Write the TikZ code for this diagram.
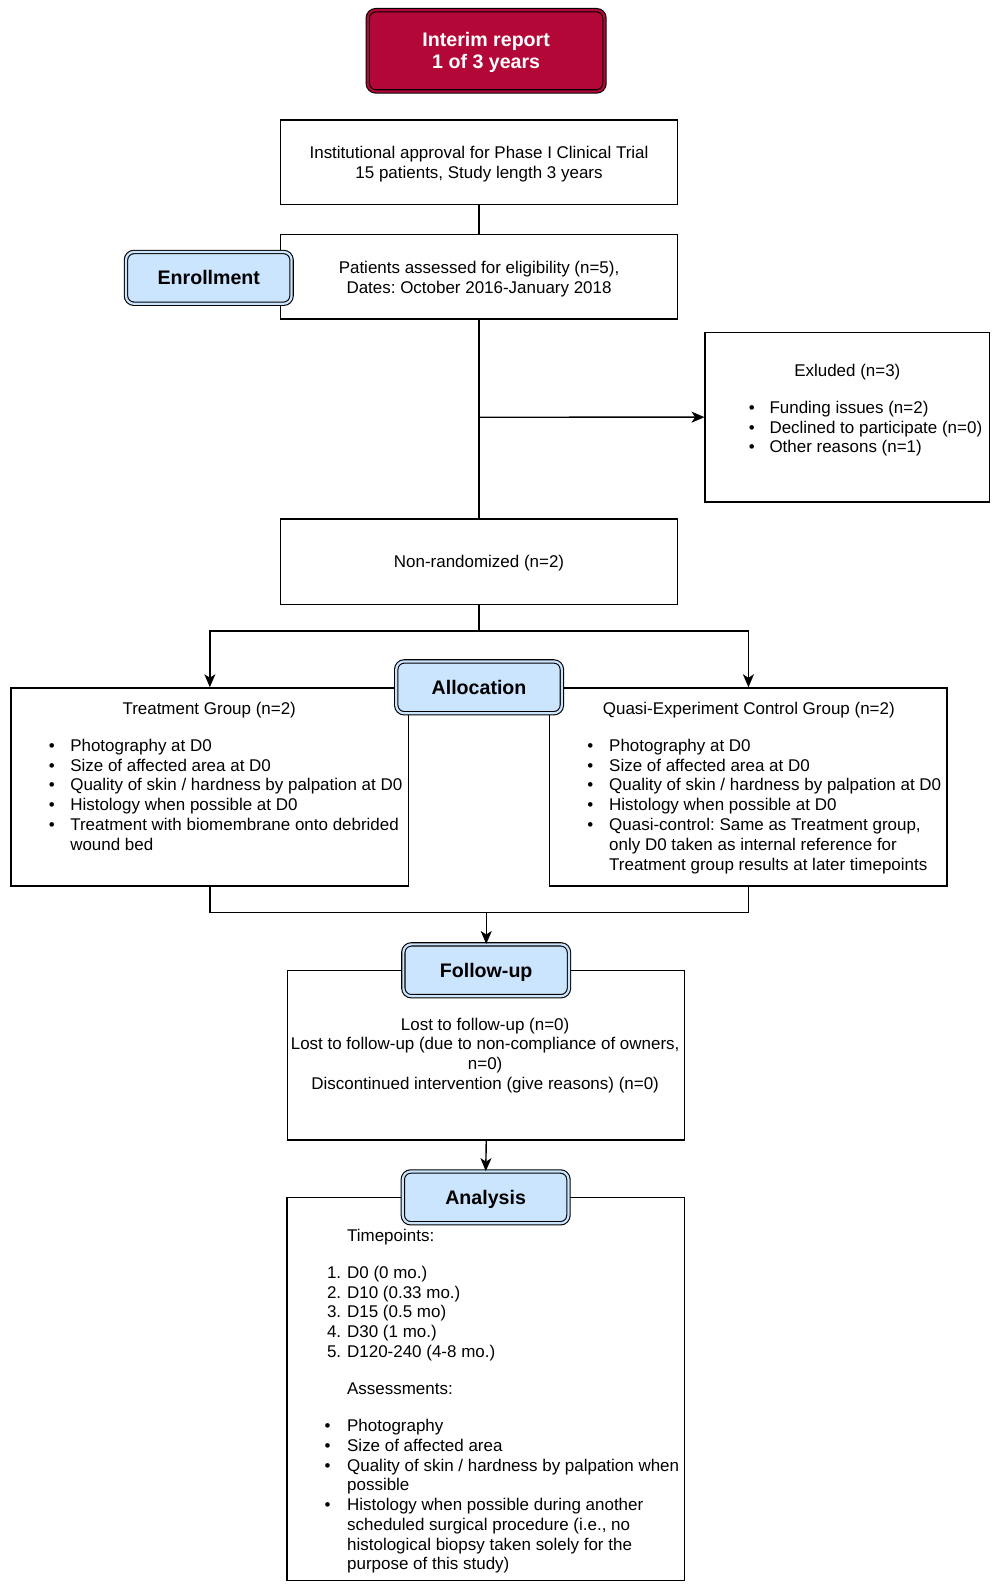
\documentclass[tikz,border=0pt]{standalone}
\usepackage{fontspec}
\setmainfont{Liberation Sans}
\usetikzlibrary{arrows.meta}
\definecolor{crim}{HTML}{B20737}
\definecolor{lblue}{HTML}{CCE5FF}
\frenchspacing
\begin{document}
\frenchspacing
\tikzset{myarrow/.tip={Stealth[length=13pt,width=11pt,inset=3.5pt]}}
\begin{tikzpicture}[x=1pt,y=-1pt,scale=1.016,transform shape,
  box/.style={rectangle,draw=black,line width=1.4pt,fill=white,inner sep=0pt},
  lab/.style={rectangle,rounded corners=8pt,draw=black,line width=1.1pt,double=lblue,double distance=2.2pt,fill=lblue,minimum width=163pt,minimum height=51pt,inner sep=0pt,font=\fontsize{19.3}{22}\selectfont\bfseries,text height=13.8pt,text depth=0pt},
  conn/.style={draw=black,line width=1.4pt},
  arr/.style={conn,-myarrow},
  txt/.style={inner sep=0pt,font=\fontsize{16.7}{19.5}\selectfont},
  ct/.style={txt,anchor=base},
  lt/.style={txt,anchor=base west},
  rt/.style={txt,anchor=base east},
  wt/.style={inner sep=0pt,anchor=base,text=white,font=\fontsize{19.3}{22}\selectfont\bfseries}]
\useasboundingbox (0,0) rectangle (984.25,1566.93);

% boxes
\node[box,minimum width=391pt,minimum height=83pt] (inst) at (471.5,159.5) {};
\node[box,minimum width=391pt,minimum height=83pt] (pat) at (471.5,272.5) {};
\node[box,minimum width=280pt,minimum height=167pt] (excl) at (834,410.5) {};
\node[box,minimum width=391pt,minimum height=84pt] (nonr) at (471.5,553) {};
\node[box,minimum width=391pt,minimum height=195pt] (treat) at (206.5,774.5) {};
\node[box,minimum width=391pt,minimum height=195pt] (ctrl) at (736.5,774.5) {};
\node[box,minimum width=391pt,minimum height=167pt] (fubox) at (478.5,1038.5) {};
\node[box,minimum width=391pt,minimum height=377pt] (anbox) at (478,1367) {};

% labels
\node[lab,double=crim,fill=crim,minimum width=233pt,minimum height=80pt] (interim) at (478.5,50) {};
\node[lab] (fulab) at (478.5,955) {Follow-up};
\node[lab] (anlab) at (478,1178.5) {Analysis};

% connectors
\draw[conn] (inst.south) -- (pat.north);
\draw[conn] (pat.south) -- (nonr.north);
\coordinate (j1) at (pat.south |- excl.west);
\draw[arr] (j1) -- (excl.west);
\coordinate (j2) at (471.5,621);
\draw[conn] (nonr.south) -- (j2);
\draw[arr] (j2) -| (treat.north);
\draw[arr] (j2) -| (ctrl.north);
\coordinate (j3) at (478.5,898);
\draw[conn] (treat.south) |- (j3) -| (ctrl.south);
\draw[arr] (j3) -- (fulab.north);
\draw[arr] (fubox.south) -- (anlab.north);

% labels drawn over box edges
\node[lab] (alloc) at (471.5,676.5) {Allocation};
\node[lab] (enr) at (205.5,273.5) {Enrollment};

% texts
\node[wt] (ir1) at (478.5,45.3) {Interim report};
\node[wt] (ir2) at (478.5,67.3) {1 of 3 years};

\node[ct] (in1) at (471.5,156) {Institutional approval for Phase I Clinical Trial};
\node[ct] (in2) at (471.5,175.5) {15 patients, Study length 3 years};

\node[ct] (pa1) at (471.5,269) {Patients assessed for eligibility (n=5),};
\node[ct] (pa2) at (471.5,288.5) {Dates: October 2016-January 2018};

\node[ct] (ex0) at (834,370.7) {Exluded (n=3)};
\node[ct] (exb1) at (740,406.8) {•};
\node[ct] (exb2) at (740,426.2) {•};
\node[ct] (exb3) at (740,445.6) {•};
\node[lt] (ex1) at (757.2,406.8) {Funding issues (n=2)};
\node[lt] (ex2) at (757.2,426.2) {Declined to participate (n=0)};
\node[lt] (ex3) at (757.2,445.6) {Other reasons (n=1)};

\node[ct] (nr1) at (471.5,559) {Non-randomized (n=2)};

\node[ct] (tr0) at (205.9,703) {Treatment Group (n=2)};
\node[ct] (trb1) at (51,739.5) {•};
\node[ct] (trb2) at (51,759) {•};
\node[ct] (trb3) at (51,778.5) {•};
\node[ct] (trb4) at (51,798) {•};
\node[ct] (trb5) at (51,817.5) {•};
\node[lt] (tr1) at (69,739.5) {Photography at D0};
\node[lt] (tr2) at (69,759) {Size of affected area at D0};
\node[lt] (tr3) at (69,778.5) {Quality of skin / hardness by palpation at D0};
\node[lt] (tr4) at (69,798) {Histology when possible at D0};
\node[lt] (tr5) at (69,817.5) {Treatment with biomembrane onto debrided};
\node[lt] (tr6) at (69,837) {wound bed};

\node[ct] (co0) at (737,703) {Quasi-Experiment Control Group (n=2)};
\node[ct] (cob1) at (581,739.5) {•};
\node[ct] (cob2) at (581,759) {•};
\node[ct] (cob3) at (581,778.5) {•};
\node[ct] (cob4) at (581,798) {•};
\node[ct] (cob5) at (581,817.5) {•};
\node[lt] (co1) at (599.4,739.5) {Photography at D0};
\node[lt] (co2) at (599.4,759) {Size of affected area at D0};
\node[lt] (co3) at (599.4,778.5) {Quality of skin / hardness by palpation at D0};
\node[lt] (co4) at (599.4,798) {Histology when possible at D0};
\node[lt] (co5) at (599.4,817.5) {Quasi-control: Same as Treatment group,};
\node[lt] (co6) at (599.4,837) {only D0 taken as internal reference for};
\node[lt] (co7) at (599.4,856.5) {Treatment group results at later timepoints};

\node[ct] (fu1) at (477.5,1013.8) {Lost to follow-up (n=0)};
\node[ct] (fu2) at (477.5,1033.3) {Lost to follow-up (due to non-compliance of owners,};
\node[ct] (fu3) at (477.5,1052.8) {n=0)};
\node[ct] (fu4) at (477.5,1072.3) {Discontinued intervention (give reasons) (n=0)};

\node[lt] (an0) at (341.5,1222.3) {Timepoints:};
\node[rt] (ann1) at (336,1258.2) {1.};
\node[rt] (ann2) at (336,1277.6) {2.};
\node[rt] (ann3) at (336,1297) {3.};
\node[rt] (ann4) at (336,1316.4) {4.};
\node[rt] (ann5) at (336,1336.2) {5.};
\node[lt] (an1) at (341.5,1258.2) {D0 (0 mo.)};
\node[lt] (an2) at (341.5,1277.6) {D10 (0.33 mo.)};
\node[lt] (an3) at (341.5,1297) {D15 (0.5 mo)};
\node[lt] (an4) at (341.5,1316.4) {D30 (1 mo.)};
\node[lt] (an5) at (341.5,1336.2) {D120-240 (4-8 mo.)};
\node[lt] (as0) at (341.5,1373) {Assessments:};
\node[ct] (asb1) at (322.5,1409.3) {•};
\node[ct] (asb2) at (322.5,1428.7) {•};
\node[ct] (asb3) at (322.5,1448.1) {•};
\node[ct] (asb4) at (322.5,1486.9) {•};
\node[lt] (as1) at (341.5,1409.3) {Photography};
\node[lt] (as2) at (341.5,1428.7) {Size of affected area};
\node[lt] (as3) at (341.5,1448.1) {Quality of skin / hardness by palpation when};
\node[lt] (as4) at (341.5,1467.5) {possible};
\node[lt] (as5) at (341.5,1486.9) {Histology when possible during another};
\node[lt] (as6) at (341.5,1506.3) {scheduled surgical procedure (i.e., no};
\node[lt] (as7) at (341.5,1525.7) {histological biopsy taken solely for the};
\node[lt] (as8) at (341.5,1545.1) {purpose of this study)};
\end{tikzpicture}
\end{document}
